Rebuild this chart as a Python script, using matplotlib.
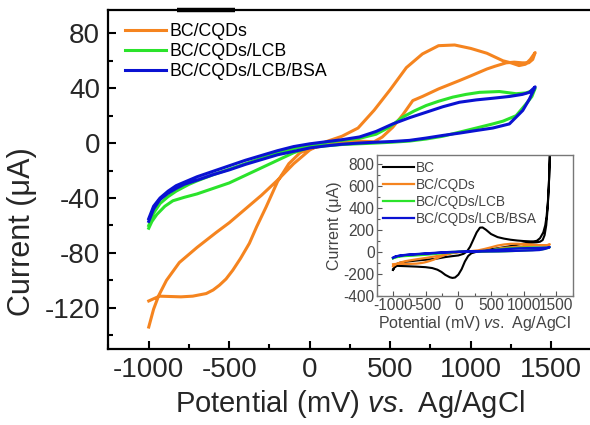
import numpy as np
import matplotlib
matplotlib.use("Agg")
import matplotlib.pyplot as plt
from matplotlib.ticker import MultipleLocator

plt.rcParams['font.family'] = ['Liberation Sans', 'DejaVu Sans']
plt.rcParams['mathtext.fontset'] = 'custom'
plt.rcParams['mathtext.it'] = 'Liberation Sans:italic'
plt.rcParams['mathtext.rm'] = 'Liberation Sans'
plt.rcParams['axes.unicode_minus'] = False

# CV loops: forward (anodic) sweep -1000 -> 1400 mV, then the return sweep
# BC/CQDs
cqd_fwd_x = [-1000, -970, -938, -890, -810, -700, -580, -500, -420, -300, -200, -100, 0, 100, 200, 300,
             400, 500, 600, 700, 800, 900, 1000, 1100, 1200, 1250, 1300, 1340, 1370, 1400]
cqd_fwd_y = [-134, -121, -111, -100, -87, -76, -65, -58, -50, -38, -27, -15, -5, 1, 5, 11,
             24, 39, 55, 65, 71, 71.5, 69, 65.5, 60, 58.5, 56.5, 57.5, 61, 66]
cqd_rev_x = [1400, 1385, 1360, 1320, 1270, 1220, 1150, 1100, 1000, 930, 800, 700, 640, 580, 516, 450,
             400, 300, 200, 100, 0, -60, -130, -200, -271, -330, -375, -430, -478, -520, -561, -600,
             -643, -727, -800, -934, -1000]
cqd_rev_y = [66, 61, 58.5, 58.5, 59, 58.5, 56, 54, 49, 45.6, 39.5, 34, 31, 21, 11.6, 4.4,
             1, 1.5, 0.5, -1.5, -4, -7, -15, -28, -46.5, -61, -73, -84, -92.6, -99, -103.5, -107,
             -109.6, -111.5, -112, -111.5, -115]

# BC/CQDs/LCB
lcb_fwd_x = [-1000, -970, -930, -880, -830, -750, -700, -600, -500, -400, -300, -200, -100, 0, 100, 200,
             309, 412, 494, 578, 650, 723, 800, 888, 970, 1054, 1178, 1282, 1344, 1385, 1400]
lcb_fwd_y = [-60, -51, -44, -39, -35, -30, -27.5, -23, -19, -15, -11, -7, -4, -1.5, 0.5, 2,
             3.5, 6.5, 11.6, 19, 23.5, 27.4, 30.5, 33.5, 35.5, 37, 37.6, 36, 36.6, 38.3, 40]
lcb_rev_x = [1400, 1380, 1344, 1282, 1200, 1137, 1034, 930, 826, 723, 619, 516, 400, 300, 200, 100,
             0, -100, -200, -300, -400, -500, -600, -700, -780, -850, -900, -950, -980, -1000]
lcb_rev_y = [40, 34, 28.6, 20, 16, 14, 11, 8, 5, 3, 1.5, 0.7, 0, -0.5, -1, -2,
             -3, -7, -12.5, -18, -23.5, -29, -33, -37, -39.5, -42, -46, -52, -57, -62]

# BC/CQDs/LCB/BSA
bsa_fwd_x = [-1000, -970, -930, -880, -830, -750, -700, -600, -500, -400, -300, -200, -100, 0, 100, 200,
             309, 412, 516, 619, 723, 826, 930, 1034, 1137, 1240, 1320, 1364, 1400]
bsa_fwd_y = [-55, -46, -40, -35, -31, -27, -24.5, -20.5, -16.5, -12.5, -9, -5.5, -2.5, -0.5, 1, 2.5,
             4.5, 8.5, 14, 18.5, 22.5, 26.5, 29.8, 31.5, 32.7, 34, 35.5, 37, 41]
bsa_rev_x = [1400, 1364, 1323, 1240, 1137, 1034, 930, 826, 723, 619, 516, 412, 300, 200, 100, 0,
             -100, -200, -300, -400, -500, -600, -700, -780, -830, -880, -930, -970, -1000]
bsa_rev_y = [41, 32, 23.8, 14, 11, 9.2, 7.3, 5.6, 3.7, 2, 1.2, 0.7, 0, -0.8, -2, -3.5,
             -6, -8.5, -12, -15.5, -19.5, -23, -27, -30, -33, -36.5, -41, -48, -57]

# bare BC (inset only)
bc_fwd_x = [-1000, -970, -940, -900, -800, -650, -500, -350, -200, -100, 0, 80, 130, 180, 230, 280,
            330, 370, 420, 500, 600, 700, 800, 900, 1000, 1100, 1150, 1200, 1250, 1300, 1330, 1350,
            1370, 1390, 1400]
bc_fwd_y = [-167, -135, -112, -102, -92, -82, -74, -66, -50, -42, -35, -20, 0, 45, 110, 175,
            218, 220, 200, 160, 132, 118, 108, 101, 96, 93, 93, 98, 122, 175, 240, 320,
            450, 680, 880]
bc_rev_x = [1400, 1385, 1365, 1345, 1320, 1290, 1250, 1200, 1100, 1000, 900, 800, 700, 600, 500, 400,
            300, 200, 150, 100, 50, 0, -50, -90, -130, -200, -260, -320, -400, -500, -640, -800,
            -940, -980, -1000]
bc_rev_y = [880, 600, 380, 240, 150, 105, 90, 85, 80, 74, 62, 50, 40, 30, 22, 12,
            2, -15, -40, -90, -160, -210, -236, -240, -234, -212, -185, -165, -150, -142, -137, -133,
            -130, -145, -165]

orange = '#F5841F'
green = '#2BE32B'
blue = '#0A12D2'
ink = '#262626'
grey = '#444444'

series = [
    ('BC/CQDs', orange, cqd_fwd_x + cqd_rev_x, cqd_fwd_y + cqd_rev_y),
    ('BC/CQDs/LCB', green, lcb_fwd_x + lcb_rev_x, lcb_fwd_y + lcb_rev_y),
    ('BC/CQDs/LCB/BSA', blue, bsa_fwd_x + bsa_rev_x, bsa_fwd_y + bsa_rev_y),
]

fig = plt.figure(figsize=(5.9, 4.25), dpi=100)
ax = fig.add_axes([108.5 / 590, 76 / 425, 483 / 590, 339 / 425])

for name, c, x, y in series:
    ax.plot(x, y, color=c, lw=2.2, label=name, solid_joinstyle='round')

ax.set_xlim(-1250, 1750)
ax.set_ylim(-150, 97)
ax.xaxis.set_major_locator(MultipleLocator(500))
ax.xaxis.set_minor_locator(MultipleLocator(250))
ax.yaxis.set_major_locator(MultipleLocator(40))
ax.yaxis.set_minor_locator(MultipleLocator(20))
ax.tick_params(which='both', direction='in', width=1.5, colors='black', labelcolor=ink,
               labelsize=20, top=False, right=False)
ax.tick_params(which='major', length=6, pad=6)
ax.tick_params(which='minor', length=3.5)
ax.spines['right'].set_visible(False)
for s in ('left', 'bottom', 'top'):
    ax.spines[s].set_linewidth(1.6)
# short heavier stroke sitting on the top frame
ax.plot([0.142, 0.262], [1, 1], transform=ax.transAxes, color='black', lw=3.2,
        solid_capstyle='butt', clip_on=False)
ax.set_xlabel(r'Potential (mV) $\it{vs.}$ Ag/AgCl', fontsize=21, color=ink, labelpad=3)
ax.set_ylabel('Current (μA)', fontsize=22, color=ink)
ax.yaxis.set_label_coords(-0.147, 0.345)

ax.legend(loc='upper left', bbox_to_anchor=(0.026, 0.972), frameon=False, fontsize=12.8,
          handlelength=2.3, handletextpad=0.25, labelspacing=0.18, borderaxespad=0.0, borderpad=0.2)

# inset with the bare BC electrode for comparison
ins = fig.add_axes([376.7 / 590, 129.5 / 425, 196 / 590, 140.5 / 425])
ins.plot(bc_fwd_x + bc_rev_x, bc_fwd_y + bc_rev_y, color='black', lw=1.5, label='BC')
for name, c, x, y in series:
    ins.plot(x, y, color=c, lw=1.6, label=name)
ins.set_xlim(-1250, 1750)
ins.set_ylim(-400, 880)
ins.xaxis.set_major_locator(MultipleLocator(500))
ins.xaxis.set_minor_locator(MultipleLocator(250))
ins.yaxis.set_major_locator(MultipleLocator(200))
ins.yaxis.set_minor_locator(MultipleLocator(100))
ins.tick_params(which='both', direction='in', colors='#555555', labelcolor=grey,
                labelsize=11.2, width=0.8, pad=1.5)
ins.tick_params(which='major', length=3.5)
ins.tick_params(which='minor', length=2)
for s in ins.spines.values():
    s.set_color('#777777')
    s.set_linewidth(1.0)
ins.set_xlabel(r'Potential (mV) $\it{vs.}$ Ag/AgCl', fontsize=11.5, color=grey, labelpad=1)
ins.set_ylabel('Current (μA)', fontsize=11.5, color=grey, labelpad=1)
ins.legend(loc='upper left', frameon=False, fontsize=9.8, handlelength=2.3, handletextpad=0.15,
           labelspacing=0.22, borderaxespad=0.2, borderpad=0.25, labelcolor=grey)

fig.savefig('out.png', dpi=100)
